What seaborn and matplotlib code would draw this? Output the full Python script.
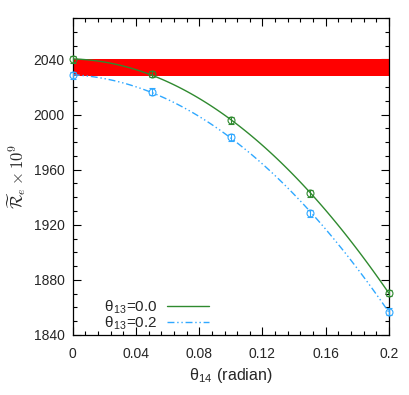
import numpy as np
import matplotlib
matplotlib.use("Agg")
import matplotlib.pyplot as plt
import seaborn as sns
from matplotlib.ticker import MultipleLocator

# ============================
# Data
# ============================
theta14 = [0.0, 0.05, 0.10, 0.15, 0.20]
r_theta13_00 = [2040.0, 2029.5, 1996.0, 1943.0, 1870.5]
err_theta13_00 = [2.5, 2.5, 2.5, 2.5, 2.5]
r_theta13_02 = [2028.5, 2016.5, 1983.5, 1928.5, 1857.0]
err_theta13_02 = [2.5, 2.5, 2.5, 2.5, 2.5]
band_low, band_high = 2028.0, 2040.0

xtick_vals = [0, 0.04, 0.08, 0.12, 0.16, 0.2]
xtick_labels = ["0", "0.04", "0.08", "0.12", "0.16", "0.2"]
labels = ["θ$_\\mathregular{13}$=0.0", "θ$_\\mathregular{13}$=0.2"]
green = "#2f8a2f"
blue = "#2fa8ff"

sns.set_style("ticks")
plt.rcParams["font.family"] = ["Liberation Sans", "DejaVu Sans"]
plt.rcParams["mathtext.fontset"] = "cm"

fig = plt.figure(figsize=(4.09, 3.95), dpi=100)
ax = fig.add_axes([0.178, 0.152, 0.773, 0.802])

# experimental band
ax.axhspan(band_low, band_high, color="red", lw=0, zorder=1)

# fitted curves
sns.regplot(x=theta14, y=r_theta13_00, order=2, ci=None, scatter=False,
            truncate=True, ax=ax,
            line_kws=dict(color=green, lw=1.0, zorder=3))
fit_green = ax.lines[-1]
sns.regplot(x=theta14, y=r_theta13_02, order=2, ci=None, scatter=False,
            truncate=True, ax=ax,
            line_kws=dict(color=blue, lw=1.0, dashes=(5, 2, 1, 2, 1, 2),
                          zorder=3))
fit_blue = ax.lines[-1]

# points with error bars
ax.errorbar(theta14, r_theta13_00, yerr=err_theta13_00, fmt="o", ms=5,
            mfc="none", mec=green, ecolor=green, elinewidth=0.8,
            capsize=2.5, mew=0.8, zorder=4, clip_on=False)
ax.errorbar(theta14, r_theta13_02, yerr=err_theta13_02, fmt="o", ms=5,
            mfc="none", mec=blue, ecolor=blue, elinewidth=0.8,
            capsize=2.5, mew=0.8, zorder=4, clip_on=False)

ax.set_xlim(0, 0.2)
ax.set_ylim(1840, 2070)
ax.set_xticks(xtick_vals, xtick_labels)
ax.xaxis.set_minor_locator(MultipleLocator(0.008))
ax.yaxis.set_major_locator(MultipleLocator(40))
ax.yaxis.set_minor_locator(MultipleLocator(10))
ax.tick_params(which="both", direction="in", top=True, right=True,
               labelsize=10, color="black", width=0.8)
ax.tick_params(axis="x", pad=9)
ax.tick_params(axis="y", pad=6)
ax.tick_params(which="major", length=6)
ax.tick_params(which="minor", length=3)
for s in ax.spines.values():
    s.set_color("black")
    s.set_linewidth(0.9)

ax.set_xlabel("θ$_\\mathregular{14}$ (radian)", fontsize=11.5, labelpad=3)
ax.set_ylabel(r"$\widetilde{\mathcal{R}}_e \times 10^9$", fontsize=12,
              labelpad=4)

ax.legend([fit_green, fit_blue], labels, loc="lower left",
          bbox_to_anchor=(0.055, -0.035), frameon=False,
          markerfirst=False, handlelength=2.8, handletextpad=0.6,
          labelspacing=-0.1, fontsize=11)

fig.savefig("out.png", dpi=100)
